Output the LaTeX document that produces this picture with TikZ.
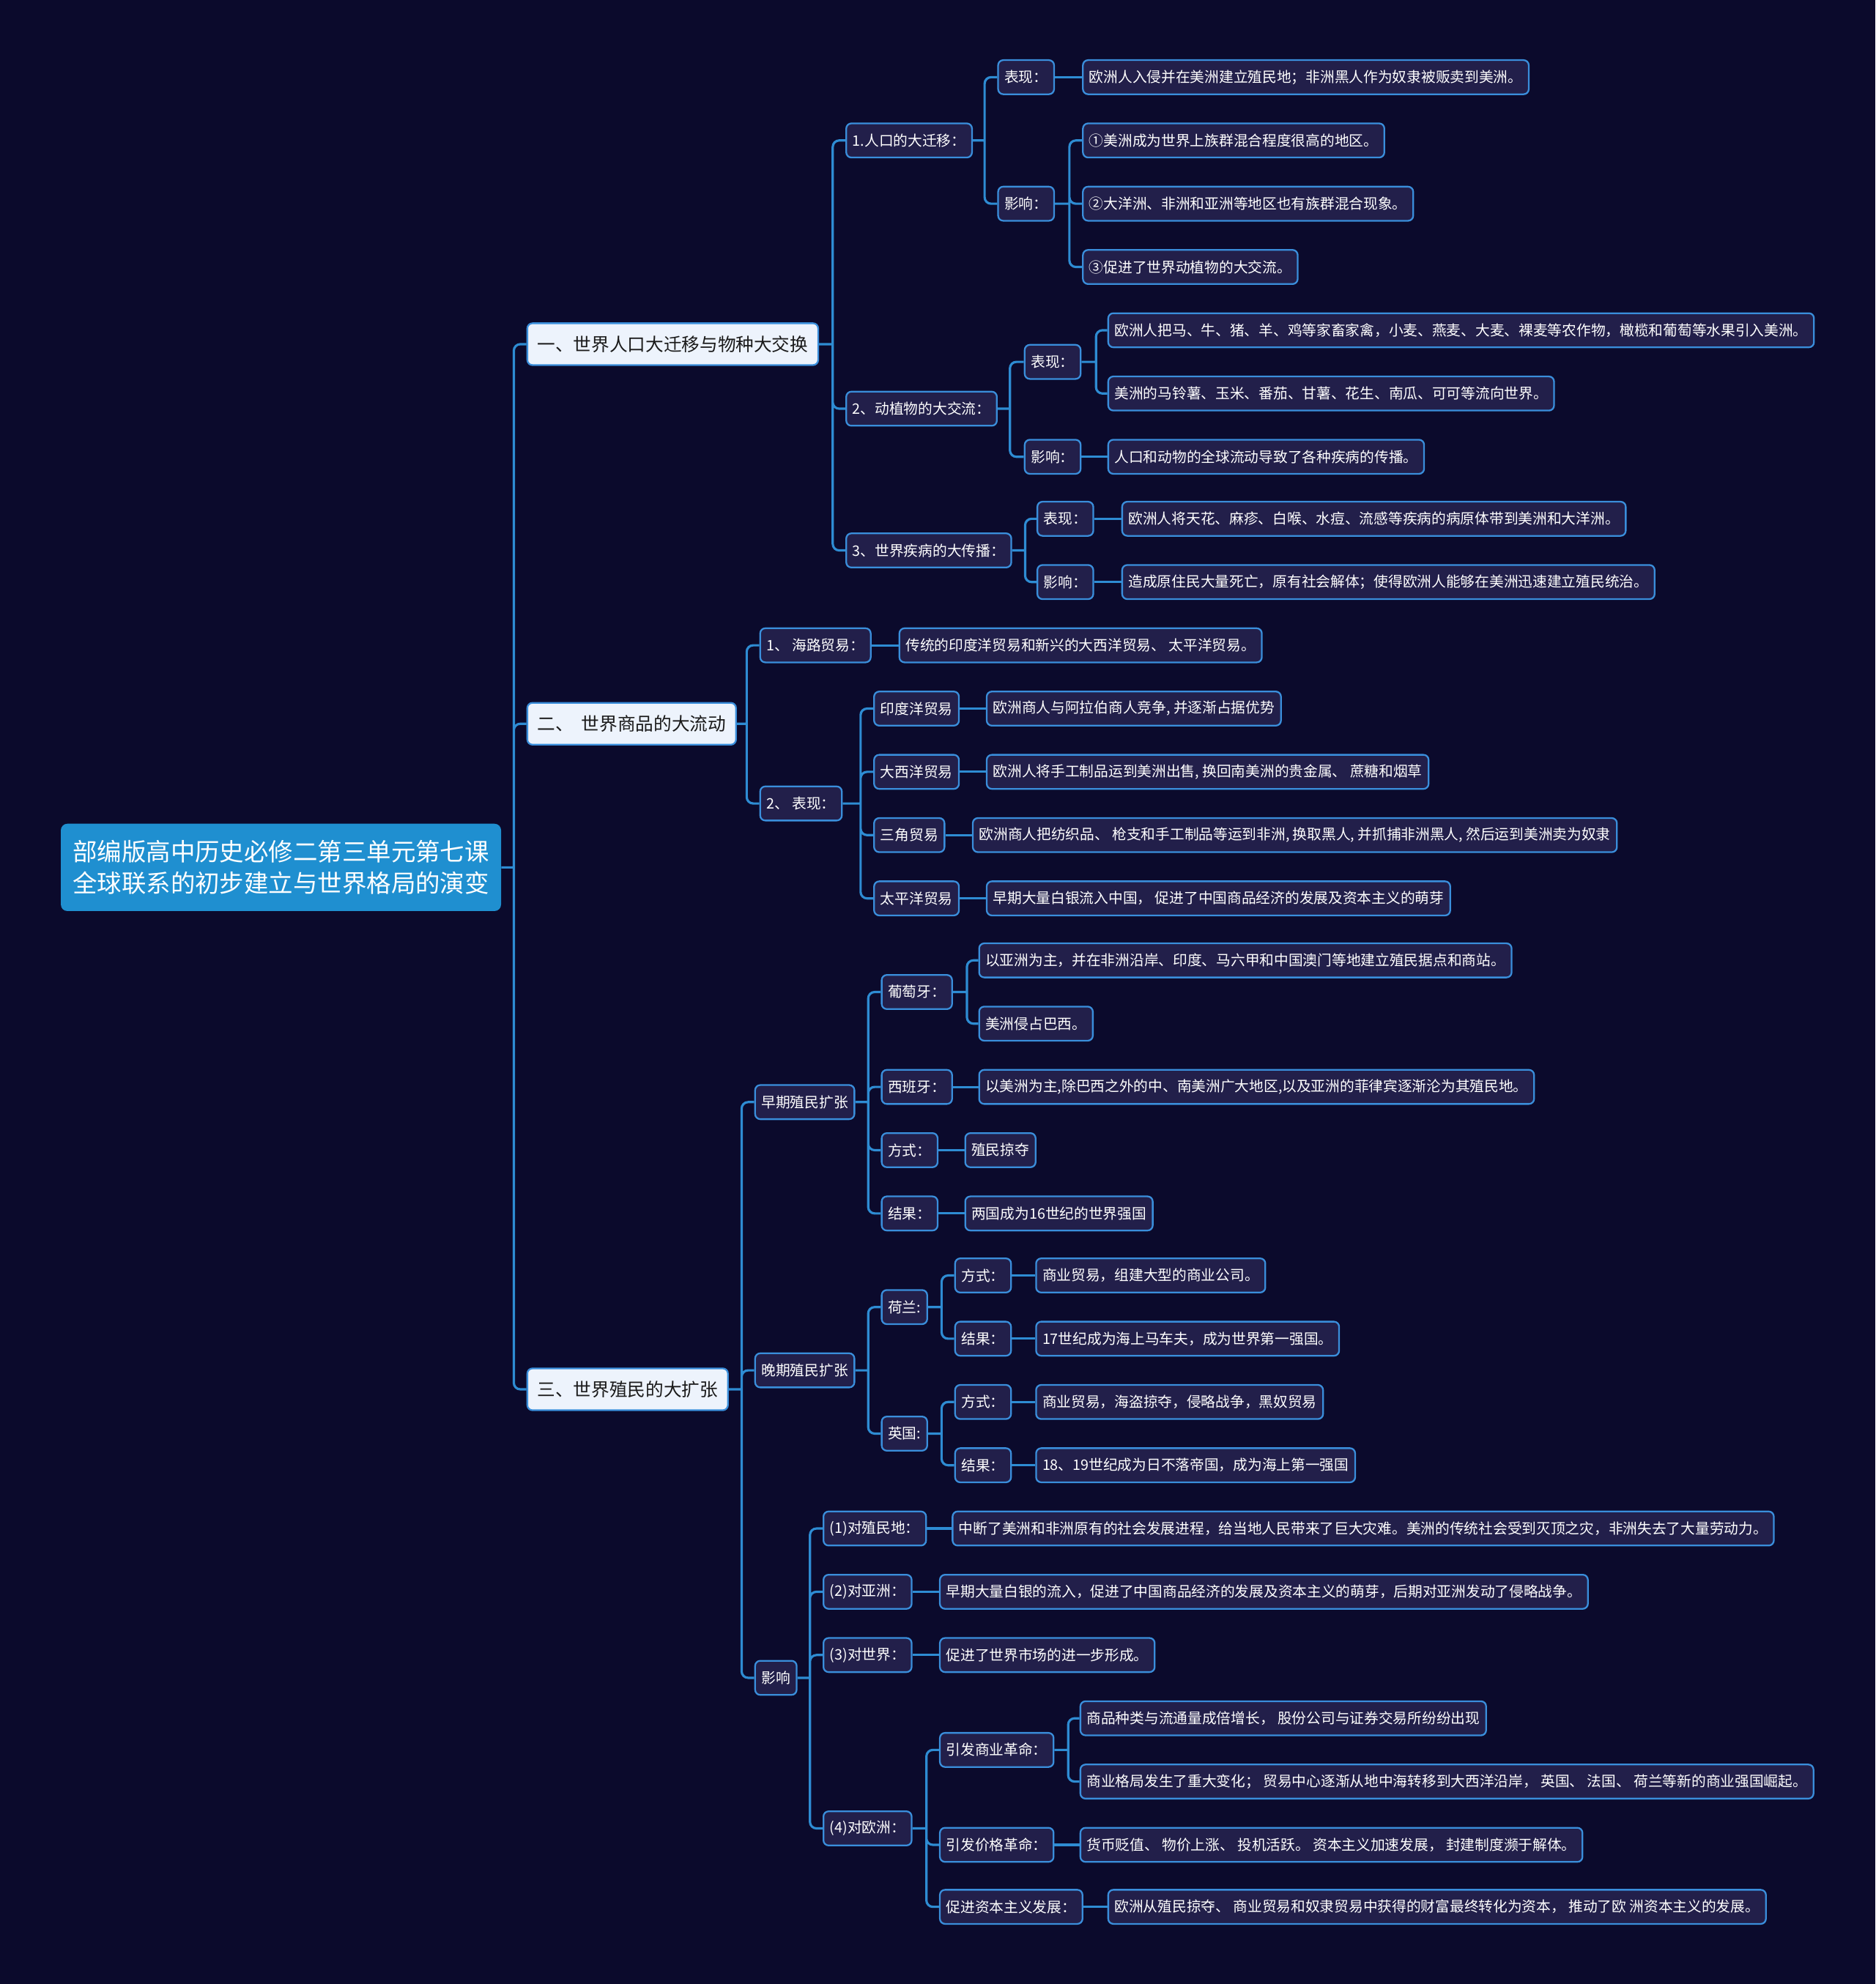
\documentclass[tikz,border=0pt]{standalone}
\usepackage{fontspec}
\setmainfont{Noto Sans CJK SC}
\definecolor{bgnavy}{HTML}{0B0A2C}
\definecolor{leaffill}{HTML}{221F4A}
\definecolor{edgeblue}{HTML}{3A8EDB}
\definecolor{linkblue}{HTML}{2E8CD3}
\definecolor{rootblue}{HTML}{1F8FD0}
\definecolor{topicfill}{HTML}{EDF3FC}
\definecolor{topictext}{HTML}{1A1A1A}
\begin{document}
\begin{tikzpicture}[x=0.0345cm, y=-0.0345cm,
	link/.style={draw=linkblue, line width=1.8pt, rounded corners=5pt},
	leaf/.style={draw=edgeblue, fill=leaffill, text=white, line width=1.3pt, rounded corners=4pt, anchor=west, minimum height=0.93cm, inner xsep=4.9pt, inner ysep=2pt, font=\fontsize{11.2}{13}\selectfont},
	topic/.style={leaf, fill=topicfill, text=topictext, minimum height=1.14cm, inner xsep=7.8pt, font=\fontsize{14}{17}\selectfont},
	root/.style={fill=rootblue, text=white, rounded corners=5pt, minimum width=12cm, minimum height=2.38cm, align=center, font=\fontsize{19}{24}\selectfont}]
	\useasboundingbox (0,0) rectangle (1482,1568);
	\fill[bgnavy] (0,0) rectangle (1482,1568);							% 背景

	\node[root] (root) at (222,685.5) {部编版高中历史必修二第三单元第七课\\全球联系的初步建立与世界格局的演变};

	% 一级主题
	\node[topic] (a) at (416,272)  {一、世界人口大迁移与物种大交换};
	\node[topic] (b) at (416,572)  {二、\ \ 世界商品的大流动};
	\node[topic] (c) at (416,1098) {三、世界殖民的大扩张};

	% 一、人口与物种
	\node[leaf] (a1) at (668,111) {1.人口的大迁移：};
	\node[leaf] (a2) at (668,323) {2、动植物的大交流：};
	\node[leaf] (a3) at (668,435) {3、世界疾病的大传播：};
	\node[leaf] (a1x) at (788,61)  {表现：};
	\node[leaf] (a1y) at (788,161) {影响：};
	\node[leaf] (a1x1) at (855,61)  {欧洲人入侵并在美洲建立殖民地；非洲黑人作为奴隶被贩卖到美洲。};
	\node[leaf] (a1y1) at (855,111) {①美洲成为世界上族群混合程度很高的地区。};
	\node[leaf] (a1y2) at (855,161) {②大洋洲、非洲和亚洲等地区也有族群混合现象。};
	\node[leaf] (a1y3) at (855,211) {③促进了世界动植物的大交流。};
	\node[leaf] (a2x) at (809,286) {表现：};
	\node[leaf] (a2y) at (809,361) {影响：};
	\node[leaf] (a2x1) at (875,261) {欧洲人把马、牛、猪、羊、鸡等家畜家禽，小麦、燕麦、大麦、裸麦等农作物，橄榄和葡萄等水果引入美洲。};
	\node[leaf] (a2x2) at (875,311) {美洲的马铃薯、玉米、番茄、甘薯、花生、南瓜、可可等流向世界。};
	\node[leaf] (a2y1) at (875,361) {人口和动物的全球流动导致了各种疾病的传播。};
	\node[leaf] (a3x) at (819,410) {表现：};
	\node[leaf] (a3y) at (819,460) {影响：};
	\node[leaf] (a3x1) at (886,410) {欧洲人将天花、麻疹、白喉、水痘、流感等疾病的病原体带到美洲和大洋洲。};
	\node[leaf] (a3y1) at (886,460) {造成原住民大量死亡，原有社会解体；使得欧洲人能够在美洲迅速建立殖民统治。};

	% 二、商品流动
	\node[leaf] (b1) at (600,510) {1、\ 海路贸易：};
	\node[leaf] (b2) at (600,635) {2、\ 表现：};
	\node[leaf] (b11) at (710,510) {传统的印度洋贸易和新兴的大西洋贸易、\ 太平洋贸易。};
	\node[leaf] (b2a) at (690,560) {印度洋贸易};
	\node[leaf] (b2b) at (690,610) {大西洋贸易};
	\node[leaf] (b2c) at (690,660) {三角贸易};
	\node[leaf] (b2d) at (690,710) {太平洋贸易};
	\node[leaf] (b2a1) at (779,560) {欧洲商人与阿拉伯商人竞争, 并逐渐占据优势};
	\node[leaf] (b2b1) at (779,610) {欧洲人将手工制品运到美洲出售, 换回南美洲的贵金属、\ 蔗糖和烟草};
	\node[leaf] (b2c1) at (768,660) {欧洲商人把纺织品、\ 枪支和手工制品等运到非洲, 换取黑人, 并抓捕非洲黑人, 然后运到美洲卖为奴隶};
	\node[leaf] (b2d1) at (779,710) {早期大量白银流入中国，\ 促进了中国商品经济的发展及资本主义的萌芽};

	% 三、殖民扩张
	\node[leaf] (c1) at (596,871)  {早期殖民扩张};
	\node[leaf] (c2) at (596,1083) {晚期殖民扩张};
	\node[leaf] (c3) at (596,1326) {影响};
	\node[leaf] (c1a) at (696,784) {葡萄牙：};
	\node[leaf] (c1b) at (696,859) {西班牙：};
	\node[leaf] (c1c) at (696,909) {方式：};
	\node[leaf] (c1d) at (696,959) {结果：};
	\node[leaf] (c1a1) at (773,759) {以亚洲为主，并在非洲沿岸、印度、马六甲和中国澳门等地建立殖民据点和商站。};
	\node[leaf] (c1a2) at (773,809) {美洲侵占巴西。};
	\node[leaf] (c1b1) at (773,859) {以美洲为主,除巴西之外的中、南美洲广大地区,以及亚洲的菲律宾逐渐沦为其殖民地。};
	\node[leaf] (c1c1) at (762,909) {殖民掠夺};
	\node[leaf] (c1d1) at (762,959) {两国成为16世纪的世界强国};
	\node[leaf] (c2a) at (696,1033) {荷兰:};
	\node[leaf] (c2b) at (696,1133) {英国:};
	\node[leaf] (c2a1) at (754,1008) {方式：};
	\node[leaf] (c2a2) at (754,1058) {结果：};
	\node[leaf] (c2b1) at (754,1108) {方式：};
	\node[leaf] (c2b2) at (754,1158) {结果：};
	\node[leaf] (c2a11) at (818,1008) {商业贸易，组建大型的商业公司。};
	\node[leaf] (c2a21) at (818,1058) {17世纪成为海上马车夫，成为世界第一强国。};
	\node[leaf] (c2b11) at (818,1108) {商业贸易，海盗掠夺，侵略战争，黑奴贸易};
	\node[leaf] (c2b21) at (818,1158) {18、19世纪成为日不落帝国，成为海上第一强国};
	\node[leaf] (c3a) at (650,1208) {(1)对殖民地：};
	\node[leaf] (c3b) at (650,1258) {(2)对亚洲：};
	\node[leaf] (c3c) at (650,1308) {(3)对世界：};
	\node[leaf] (c3d) at (650,1445) {(4)对欧洲：};
	\node[leaf] (c3a1) at (752,1208) {中断了美洲和非洲原有的社会发展进程，给当地人民带来了巨大灾难。美洲的传统社会受到灭顶之灾，非洲失去了大量劳动力。};
	\node[leaf] (c3b1) at (742,1258) {早期大量白银的流入，促进了中国商品经济的发展及资本主义的萌芽，后期对亚洲发动了侵略战争。};
	\node[leaf] (c3c1) at (742,1308) {促进了世界市场的进一步形成。};
	\node[leaf] (c3d1) at (742,1383) {引发商业革命：};
	\node[leaf] (c3d2) at (742,1458) {引发价格革命：};
	\node[leaf] (c3d3) at (742,1507) {促进资本主义发展：};
	\node[leaf] (c3d1a) at (853,1358) {商品种类与流通量成倍增长，\ 股份公司与证券交易所纷纷出现};
	\node[leaf] (c3d1b) at (853,1408) {商业格局发生了重大变化；\ 贸易中心逐渐从地中海转移到大西洋沿岸，\ 英国、\ 法国、\ 荷兰等新的商业强国崛起。};
	\node[leaf] (c3d21) at (853,1458) {货币贬值、\ 物价上涨、\ 投机活跃。\ 资本主义加速发展，\ 封建制度濒于解体。};
	\node[leaf] (c3d31) at (875,1507) {欧洲从殖民掠夺、\ 商业贸易和奴隶贸易中获得的财富最终转化为资本，\ 推动了欧\ 洲资本主义的发展。};

	% 分支点
	\coordinate (rootJ) at (406,685.5);
	\coordinate (aJ) at (658,272);
	\coordinate (a1J) at (778,111);
	\coordinate (a1yJ) at (845,161);
	\coordinate (a2J) at (798,323);
	\coordinate (a2xJ) at (866,286);
	\coordinate (a3J) at (810,435);
	\coordinate (bJ) at (590,572);
	\coordinate (b2J) at (680,635);
	\coordinate (cJ) at (586,1098);
	\coordinate (c1J) at (686,871);
	\coordinate (c1aJ) at (764,784);
	\coordinate (c2J) at (686,1083);
	\coordinate (c2aJ) at (744,1033);
	\coordinate (c2bJ) at (744,1133);
	\coordinate (c3J) at (640,1326);
	\coordinate (c3dJ) at (732,1445);
	\coordinate (c3d1J) at (844,1383);

	% 连线
	\draw[link] (root.east) -- (rootJ) (rootJ) |- (a.west) (rootJ) |- (b.west) (rootJ) |- (c.west);
	\draw[link] (a.east) -- (aJ) (aJ) |- (a1.west) (aJ) |- (a2.west) (aJ) |- (a3.west);
	\draw[link] (a1.east) -- (a1J) (a1J) |- (a1x.west) (a1J) |- (a1y.west);
	\draw[link] (a1x.east) -- (a1x1.west);
	\draw[link] (a1y.east) -- (a1yJ) (a1yJ) |- (a1y1.west) (a1yJ) |- (a1y2.west) (a1yJ) |- (a1y3.west);
	\draw[link] (a2.east) -- (a2J) (a2J) |- (a2x.west) (a2J) |- (a2y.west);
	\draw[link] (a2x.east) -- (a2xJ) (a2xJ) |- (a2x1.west) (a2xJ) |- (a2x2.west);
	\draw[link] (a2y.east) -- (a2y1.west);
	\draw[link] (a3.east) -- (a3J) (a3J) |- (a3x.west) (a3J) |- (a3y.west);
	\draw[link] (a3x.east) -- (a3x1.west);
	\draw[link] (a3y.east) -- (a3y1.west);

	\draw[link] (b.east) -- (bJ) (bJ) |- (b1.west) (bJ) |- (b2.west);
	\draw[link] (b1.east) -- (b11.west);
	\draw[link] (b2.east) -- (b2J) (b2J) |- (b2a.west) (b2J) |- (b2b.west) (b2J) |- (b2c.west) (b2J) |- (b2d.west);
	\draw[link] (b2a.east) -- (b2a1.west);
	\draw[link] (b2b.east) -- (b2b1.west);
	\draw[link] (b2c.east) -- (b2c1.west);
	\draw[link] (b2d.east) -- (b2d1.west);

	\draw[link] (c.east) -- (cJ) (cJ) |- (c1.west) (cJ) |- (c2.west) (cJ) |- (c3.west);
	\draw[link] (c1.east) -- (c1J) (c1J) |- (c1a.west) (c1J) |- (c1b.west) (c1J) |- (c1c.west) (c1J) |- (c1d.west);
	\draw[link] (c1a.east) -- (c1aJ) (c1aJ) |- (c1a1.west) (c1aJ) |- (c1a2.west);
	\draw[link] (c1b.east) -- (c1b1.west);
	\draw[link] (c1c.east) -- (c1c1.west);
	\draw[link] (c1d.east) -- (c1d1.west);
	\draw[link] (c2.east) -- (c2J) (c2J) |- (c2a.west) (c2J) |- (c2b.west);
	\draw[link] (c2a.east) -- (c2aJ) (c2aJ) |- (c2a1.west) (c2aJ) |- (c2a2.west);
	\draw[link] (c2b.east) -- (c2bJ) (c2bJ) |- (c2b1.west) (c2bJ) |- (c2b2.west);
	\draw[link] (c2a1.east) -- (c2a11.west);
	\draw[link] (c2a2.east) -- (c2a21.west);
	\draw[link] (c2b1.east) -- (c2b11.west);
	\draw[link] (c2b2.east) -- (c2b21.west);
	\draw[link] (c3.east) -- (c3J) (c3J) |- (c3a.west) (c3J) |- (c3b.west) (c3J) |- (c3c.west) (c3J) |- (c3d.west);
	\draw[link] (c3a.east) -- (c3a1.west);
	\draw[link] (c3b.east) -- (c3b1.west);
	\draw[link] (c3c.east) -- (c3c1.west);
	\draw[link] (c3d.east) -- (c3dJ) (c3dJ) |- (c3d1.west) (c3dJ) |- (c3d2.west) (c3dJ) |- (c3d3.west);
	\draw[link] (c3d1.east) -- (c3d1J) (c3d1J) |- (c3d1a.west) (c3d1J) |- (c3d1b.west);
	\draw[link] (c3d2.east) -- (c3d21.west);
	\draw[link] (c3d3.east) -- (c3d31.west);
\end{tikzpicture}
\end{document}
